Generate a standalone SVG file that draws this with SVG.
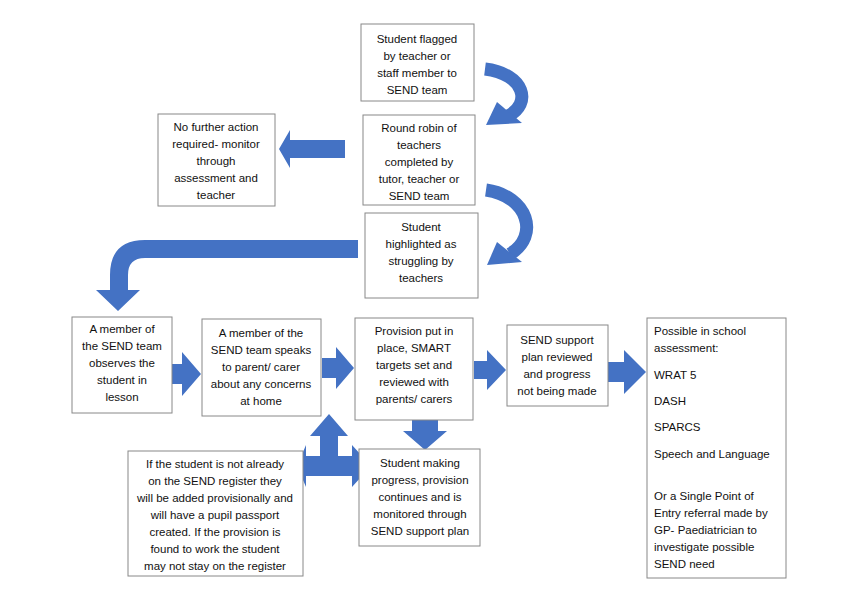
<svg xmlns="http://www.w3.org/2000/svg" width="848" height="600" viewBox="0 0 848 600">
<style>
.b{fill:#fff;stroke:#888;stroke-width:1}
text{font-family:"Liberation Sans",Arial,sans-serif;font-size:11.5px;fill:#111;text-anchor:middle}
.l{text-anchor:start}
.a{fill:#4472C4}
.c{fill:none;stroke:#4472C4;stroke-width:13}
</style>
<rect width="848" height="600" fill="#fff"/>
<g id="connectors">
<path class="c" d="M485,69 C525,74 532,104 508,116"/>
<polygon class="a" points="486,125 497,102 522,123"/>
<path class="c" d="M486,190 C528,196 540,236 510,254"/>
<polygon class="a" points="487,265 497,242 522,262"/>
<polygon class="a" points="345,140 290,140 290,130 279,149 290,168 290,158 345,158"/>
<path class="a" d="M358,240 L145,240 Q110,240 110,275 L110,290 L96,290 L118,311 L140,290 L128,290 L128,275 Q128,258 145,258 L358,258 Z"/>
<polygon class="a" points="162,364 182,364 182,352 201,374 182,396 182,384 162,384"/>
<polygon class="a" points="322,358 336,358 336,347 354,368 336,389 336,378 322,378"/>
<polygon class="a" points="474,361 487,361 487,350 506,370 487,390 487,379 474,379"/>
<polygon class="a" points="608,362 624,362 624,350 646,372 624,394 624,382 608,382"/>
<polygon class="a" points="412,420 438,420 438,431 447,431 425,450 403,431 412,431"/>
<polygon class="a" points="320,436 310,436 329,414 348,436 338,436 338,456 352,456 352,445 371,466 352,487 352,476 306,476 306,487 297,466 306,445 306,456 320,456"/>
</g>
<g id="n1"><rect class="b" x="361" y="24" width="113" height="77"/><text x="417" y="43">Student flagged</text><text x="417" y="60">by teacher or</text><text x="417" y="77">staff member to</text><text x="417" y="94">SEND team</text></g>
<g id="n2"><rect class="b" x="363" y="115" width="112" height="90"/><text x="419" y="132">Round robin of</text><text x="419" y="149">teachers</text><text x="419" y="166">completed by</text><text x="419" y="183">tutor, teacher or</text><text x="419" y="200">SEND team</text></g>
<g id="n3"><rect class="b" x="158" y="114" width="117" height="92"/><text x="216" y="131">No further action</text><text x="216" y="148">required- monitor</text><text x="216" y="165">through</text><text x="216" y="182">assessment and</text><text x="216" y="199">teacher</text></g>
<g id="n4"><rect class="b" x="365" y="213" width="113" height="85"/><text x="421" y="231">Student</text><text x="421" y="248">highlighted as</text><text x="421" y="265">struggling by</text><text x="421" y="282">teachers</text></g>
<g id="n5"><rect class="b" x="72" y="317" width="100" height="96"/><text x="122" y="333">A member of</text><text x="122" y="350">the SEND team</text><text x="122" y="367">observes the</text><text x="122" y="384">student in</text><text x="122" y="401">lesson</text></g>
<g id="n6"><rect class="b" x="202" y="319" width="119" height="97"/><text x="261" y="337">A member of the</text><text x="261" y="354">SEND team speaks</text><text x="261" y="371">to parent/ carer</text><text x="261" y="388">about any concerns</text><text x="261" y="405">at home</text></g>
<g id="n7"><rect class="b" x="355" y="318" width="118" height="102"/><text x="414" y="335">Provision put in</text><text x="414" y="352">place, SMART</text><text x="414" y="369">targets set and</text><text x="414" y="386">reviewed with</text><text x="414" y="403">parents/ carers</text></g>
<g id="n8"><rect class="b" x="507" y="325" width="101" height="81"/><text x="557" y="344">SEND support</text><text x="557" y="361">plan reviewed</text><text x="557" y="378">and progress</text><text x="557" y="395">not being made</text></g>
<g id="n9"><rect class="b" x="647" y="318" width="139" height="260"/><text class="l" x="654" y="335">Possible in school</text><text class="l" x="654" y="352">assessment:</text><text class="l" x="654" y="379">WRAT 5</text><text class="l" x="654" y="405">DASH</text><text class="l" x="654" y="431">SPARCS</text><text class="l" x="654" y="458">Speech and Language</text><text class="l" x="654" y="500">Or a Single Point of</text><text class="l" x="654" y="517">Entry referral made by</text><text class="l" x="654" y="534">GP- Paediatrician to</text><text class="l" x="654" y="551">investigate possible</text><text class="l" x="654" y="568">SEND need</text></g>
<g id="n10"><rect class="b" x="359" y="449" width="121" height="97"/><text x="420" y="467">Student making</text><text x="420" y="484">progress, provision</text><text x="420" y="501">continues and is</text><text x="420" y="518">monitored through</text><text x="420" y="535">SEND support plan</text></g>
<g id="n11"><rect class="b" x="128" y="451" width="175" height="125"/><text x="215" y="468">If the student is not already</text><text x="215" y="485">on the SEND register they</text><text x="215" y="502">will be added provisionally and</text><text x="215" y="519">will have a pupil passport</text><text x="215" y="536">created. If the provision is</text><text x="215" y="553">found to work the student</text><text x="215" y="570">may not stay on the register</text></g>
</svg>
